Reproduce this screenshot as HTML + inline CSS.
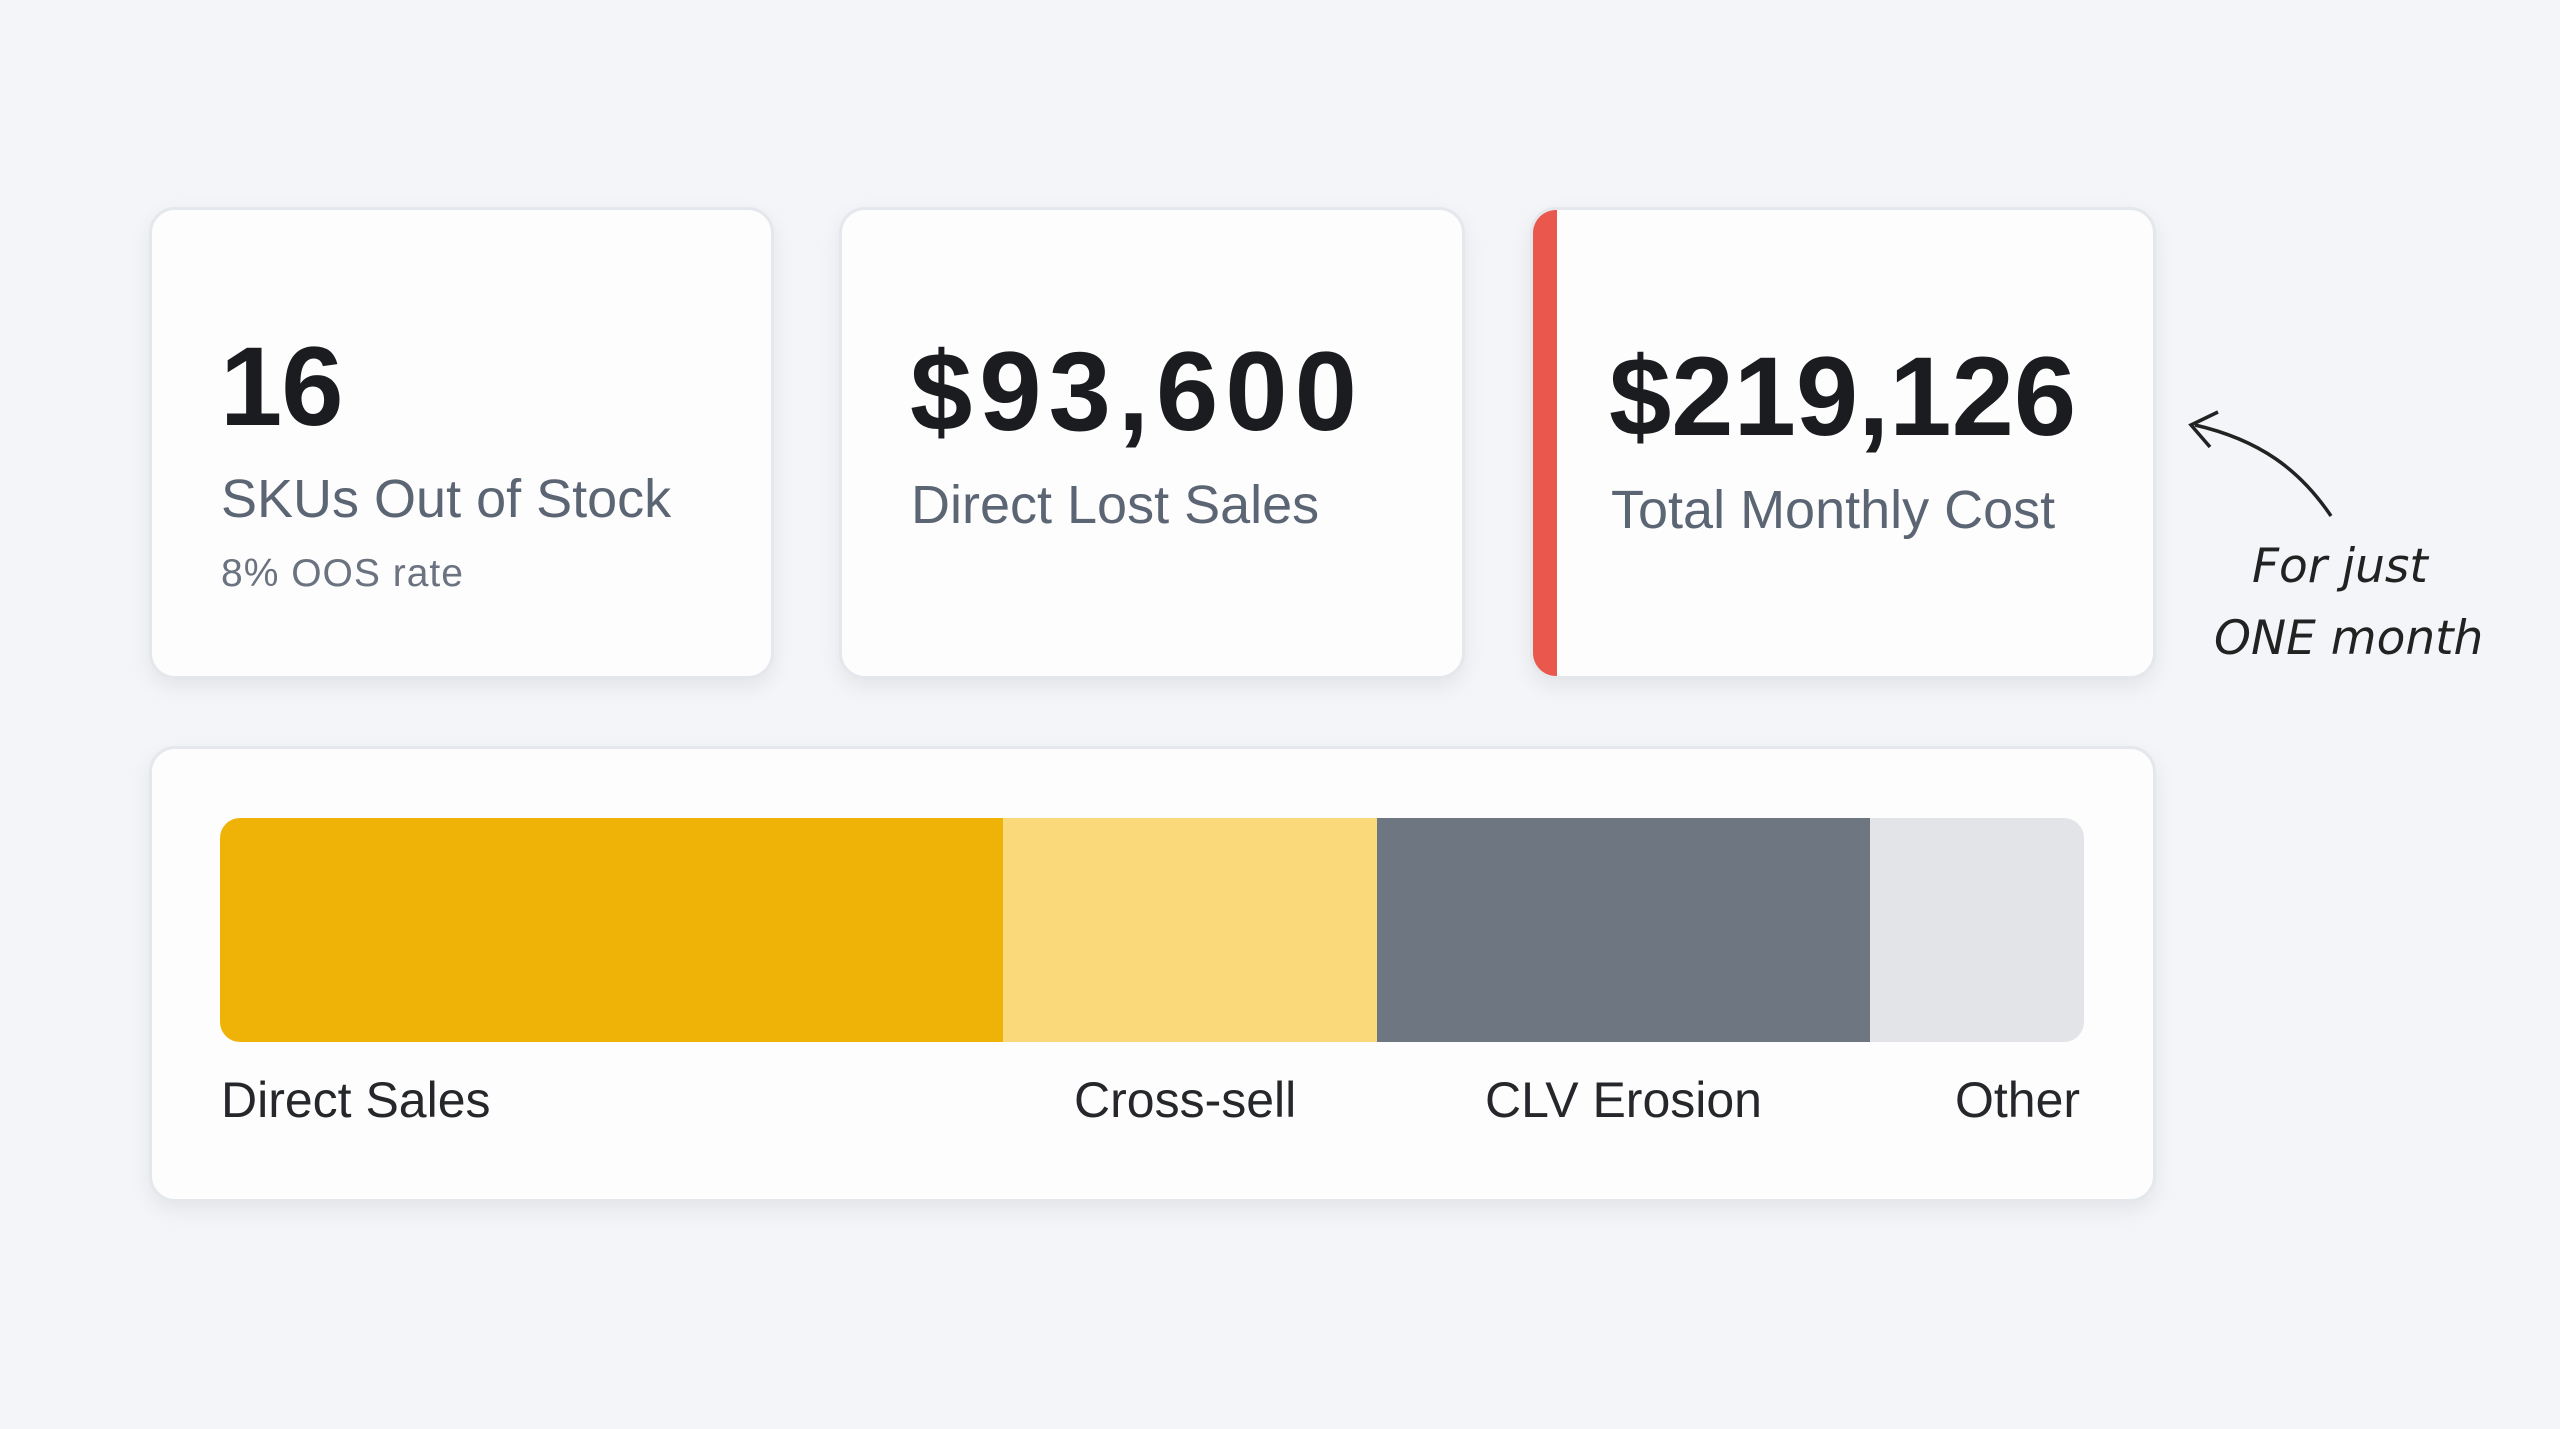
<!DOCTYPE html>
<html><head><meta charset="utf-8"><style>
html,body{margin:0;padding:0}
body{width:2560px;height:1429px;background:#f3f5f8;position:relative;overflow:hidden;font-family:"Liberation Sans",sans-serif}
.card{position:absolute;background:#fdfdfd;border:3px solid #e4e7eb;border-radius:26px;box-shadow:0 8px 22px rgba(0,0,0,0.07);box-sizing:border-box;overflow:hidden}
.big{position:absolute;font-weight:bold;color:#1b1c1f;font-size:112px;letter-spacing:-1px}
.lab{position:absolute;color:#5b6573;font-size:54px}
.sub{position:absolute;color:#6b7380;font-size:39px;letter-spacing:1px}
.seg{position:absolute;top:818px;height:224px}
.bl{position:absolute;top:1071px;font-size:50px;color:#25272b}
</style></head><body>
<div class="card" style="left:149px;top:207px;width:625px;height:472px"></div>
<div class="card" style="left:839px;top:207px;width:626px;height:472px"></div>
<div class="card" style="left:1530px;top:207px;width:626px;height:472px"><div style="position:absolute;left:0;top:0;bottom:0;width:24px;background:#e9574d"></div></div>
<div class="card" style="left:149px;top:746px;width:2007px;height:456px"></div>

<div class="big" style="left:220px;top:322px">16</div>
<div class="lab" style="left:221px;top:468px">SKUs Out of Stock</div>
<div class="sub" style="left:221px;top:552px">8% OOS rate</div>

<div class="big" style="left:910px;top:327px;letter-spacing:7px">$93,600</div>
<div class="lab" style="left:911px;top:474px">Direct Lost Sales</div>

<div class="big" style="left:1609px;top:332px;letter-spacing:0px">$219,126</div>
<div class="lab" style="left:1611px;top:479px">Total Monthly Cost</div>

<div class="seg" style="left:220px;width:783px;background:#efb307;border-radius:20px 0 0 20px"></div>
<div class="seg" style="left:1003px;width:374px;background:#f9d97a"></div>
<div class="seg" style="left:1377px;width:493px;background:#6e7682"></div>
<div class="seg" style="left:1870px;width:214px;background:#e2e4e8;border-radius:0 20px 20px 0"></div>

<div class="bl" style="left:221px">Direct Sales</div>
<div class="bl" style="left:1074px">Cross-sell</div>
<div class="bl" style="left:1485px">CLV Erosion</div>
<div class="bl" style="left:1955px">Other</div>

<svg style="position:absolute;left:0;top:0" width="2560" height="1429">
<path d="M2331 516 C2300 470 2260 440 2195 425" fill="none" stroke="#222" stroke-width="3.5"/>
<path d="M2218 412 L2191 425 L2210 447" fill="none" stroke="#222" stroke-width="3.5"/>
<text x="2252" y="582" font-family="DejaVu Sans" font-style="italic" font-size="47" fill="#222">For just</text>
<text x="2214" y="654" font-family="DejaVu Sans" font-style="italic" font-size="47" fill="#222">ONE month</text>
</svg>
</body></html>
